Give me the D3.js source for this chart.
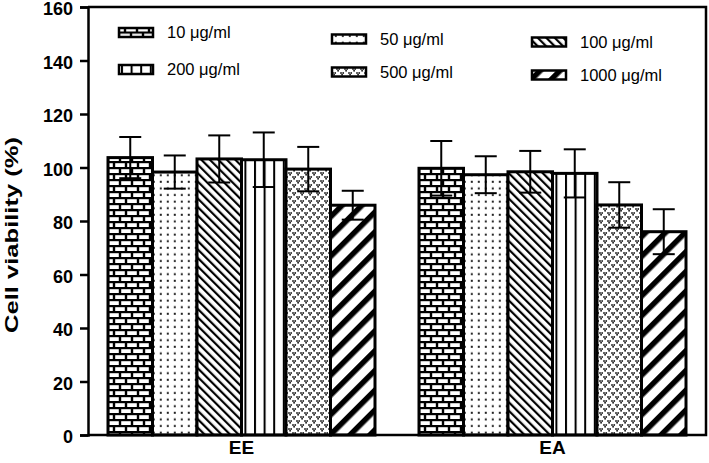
<!DOCTYPE html>
<html>
<head>
<meta charset="utf-8">
<script src="https://cdn.jsdelivr.net/npm/d3@7/dist/d3.min.js"></script>
<style>
  html, body { margin: 0; padding: 0; background: #fff; }
  svg { display: block; font-family: "Liberation Sans", Arial, sans-serif; }
</style>
</head>
<body>
<svg id="chart" width="709" height="463"></svg>
<script>
const groups = ["EE", "EA"];
const series = ["10 μg/ml", "50 μg/ml", "100 μg/ml", "200 μg/ml", "500 μg/ml", "1000 μg/ml"];
const meanEE = [103.7, 98.3, 103.2, 102.9, 99.4, 85.9];
const sdEE   = [7.7, 6.2, 8.8, 10.2, 8.3, 5.4];
const meanEA = [99.7, 97.3, 98.4, 97.8, 86.0, 76.0];
const sdEA   = [10.2, 6.9, 7.8, 9.0, 8.5, 8.4];
const yTicks = [0, 20, 40, 60, 80, 100, 120, 140, 160];

const svg = d3.select("#chart");
const W = 709, H = 463;
const m = { left: 88, top: 7, right: 3, bottom: 28 };
const defs = svg.append("defs");

// Patterns
const pats = ["p10", "p50", "p100", "p200", "p500", "p1000"];
// brick
{
  const p = defs.append("pattern").attr("id", "p10").attr("patternUnits", "userSpaceOnUse")
    .attr("width", 12).attr("height", 12);
  p.append("rect").attr("width", 12).attr("height", 12).attr("fill", "#000");
  p.append("rect").attr("x", 1.2).attr("y", 1.2).attr("width", 9.6).attr("height", 3.8).attr("fill", "#fff");
  p.append("rect").attr("x", -4.8).attr("y", 7.2).attr("width", 9.6).attr("height", 3.8).attr("fill", "#fff");
  p.append("rect").attr("x", 7.2).attr("y", 7.2).attr("width", 9.6).attr("height", 3.8).attr("fill", "#fff");
}
// dots
{
  const p = defs.append("pattern").attr("id", "p50").attr("patternUnits", "userSpaceOnUse")
    .attr("width", 7).attr("height", 6.6);
  p.append("rect").attr("width", 7).attr("height", 6.6).attr("fill", "#fff");
  p.append("rect").attr("x", 2.8).attr("y", 2.6).attr("width", 2).attr("height", 2).attr("fill", "#222");
}
// diagonal \
{
  const p = defs.append("pattern").attr("id", "p100").attr("patternUnits", "userSpaceOnUse")
    .attr("width", 6).attr("height", 6).attr("patternTransform", "rotate(-45)");
  p.append("rect").attr("width", 6).attr("height", 6).attr("fill", "#fff");
  p.append("rect").attr("x", 0).attr("y", 0).attr("width", 2.2).attr("height", 6).attr("fill", "#000");
}
// vertical lines
{
  const p = defs.append("pattern").attr("id", "p200").attr("patternUnits", "userSpaceOnUse")
    .attr("width", 9.6).attr("height", 10).attr("x", 2);
  p.append("rect").attr("width", 9.6).attr("height", 10).attr("fill", "#fff");
  p.append("rect").attr("x", 0).attr("y", 0).attr("width", 2).attr("height", 10).attr("fill", "#000");
}
// hearts
{
  const p = defs.append("pattern").attr("id", "p500").attr("patternUnits", "userSpaceOnUse")
    .attr("width", 8).attr("height", 8);
  p.append("rect").attr("width", 8).attr("height", 8).attr("fill", "#fff");
  const g = p.append("g").attr("fill", "#222");
  [[1, 1], [5, 5]].forEach(([x, y]) => {
    g.append("circle").attr("cx", x).attr("cy", y).attr("r", 0.95);
    g.append("circle").attr("cx", x + 2.2).attr("cy", y).attr("r", 0.95);
    g.append("circle").attr("cx", x + 1.1).attr("cy", y + 1.7).attr("r", 0.95);
  });
  g.append("circle").attr("cx", 9).attr("cy", 5).attr("r", 0.95);
}
// thick /
{
  const p = defs.append("pattern").attr("id", "p1000").attr("patternUnits", "userSpaceOnUse")
    .attr("width", 14).attr("height", 14).attr("patternTransform", "rotate(45)");
  p.append("rect").attr("width", 14).attr("height", 14).attr("fill", "#fff");
  p.append("rect").attr("x", 0).attr("y", 0).attr("width", 5.5).attr("height", 14).attr("fill", "#000");
}

const y = d3.scaleLinear().domain([0, 160]).range([H - m.bottom, m.top]);
const x0 = d3.scaleBand().domain(groups).range([m.left, W - m.right])
  .paddingInner(0.1415).paddingOuter(0.0643);
const x1 = d3.scaleBand().domain(series).range([0, x0.bandwidth()]).padding(0);

const data = groups.map((g, gi) => ({
  g, vals: series.map((s, si) => ({
    s, si,
    mean: gi === 0 ? meanEE[si] : meanEA[si],
    sd: gi === 0 ? sdEE[si] : sdEA[si]
  }))
}));

const gg = svg.selectAll(".grp").data(data).enter().append("g")
  .attr("transform", d => `translate(${x0(d.g)},0)`);

gg.selectAll("rect.bar").data(d => d.vals).enter().append("rect")
  .attr("class", "bar")
  .attr("x", d => x1(d.s))
  .attr("y", d => y(d.mean))
  .attr("width", x1.bandwidth())
  .attr("height", d => y(0) - y(d.mean))
  .attr("fill", d => `url(#${pats[d.si]})`)
  .attr("stroke", "#000").attr("stroke-width", 3);

const capW = 22;
const eb = gg.selectAll("g.eb").data(d => d.vals).enter().append("g")
  .attr("stroke", "#000").attr("stroke-width", 2);
eb.append("line")
  .attr("x1", d => x1(d.s) + x1.bandwidth() / 2).attr("x2", d => x1(d.s) + x1.bandwidth() / 2)
  .attr("y1", d => y(d.mean + d.sd)).attr("y2", d => y(d.mean - d.sd));
eb.append("line")
  .attr("x1", d => x1(d.s) + x1.bandwidth() / 2 - capW / 2).attr("x2", d => x1(d.s) + x1.bandwidth() / 2 + capW / 2)
  .attr("y1", d => y(d.mean + d.sd)).attr("y2", d => y(d.mean + d.sd));
eb.append("line")
  .attr("x1", d => x1(d.s) + x1.bandwidth() / 2 - capW / 2).attr("x2", d => x1(d.s) + x1.bandwidth() / 2 + capW / 2)
  .attr("y1", d => y(d.mean - d.sd)).attr("y2", d => y(d.mean - d.sd));

// Frame
svg.append("path")
  .attr("d", `M${m.left},${m.top}H${W - m.right}V${H - m.bottom}H${m.left}`)
  .attr("fill", "none").attr("stroke", "#000").attr("stroke-width", 2.5);

// Y axis
const yAxis = svg.append("g").attr("transform", `translate(${m.left},0)`)
  .call(d3.axisLeft(y).tickValues(yTicks).tickSize(8).tickPadding(7));
yAxis.select(".domain").attr("stroke-width", 2.5);
yAxis.selectAll(".tick line").attr("stroke-width", 2.5);
yAxis.selectAll(".tick text").attr("font-size", 18).attr("font-weight", "bold")
  .attr("font-family", "'Liberation Sans', Arial, sans-serif").attr("fill", "#000")
  .attr("dy", "0.42em");

// X axis labels
const xAxis = svg.append("g").attr("transform", `translate(0,${H - m.bottom})`)
  .call(d3.axisBottom(x0).tickSize(0).tickPadding(6));
xAxis.select(".domain").remove();
xAxis.selectAll(".tick text").attr("font-size", 19).attr("font-weight", "bold")
  .attr("font-family", "'Liberation Sans', Arial, sans-serif").attr("fill", "#000");

// Y label
svg.append("text")
  .attr("transform", `translate(18,235) rotate(-90)`)
  .attr("text-anchor", "middle").attr("font-size", 19).attr("font-weight", "bold")
  .attr("textLength", 196).attr("lengthAdjust", "spacingAndGlyphs")
  .text("Cell viability (%)");

// Legend
const legendOrder = ["10 μg/ml", "200 μg/ml", "50 μg/ml", "500 μg/ml", "100 μg/ml", "1000 μg/ml"];
const legendPos = [[119, 32.5], [119, 69.5], [332, 39], [332, 72], [532, 42], [532, 75]];
const lg = svg.selectAll(".lg").data(legendOrder).enter().append("g")
  .attr("transform", (d, i) => `translate(${legendPos[i][0]},${legendPos[i][1]})`);
lg.append("rect").attr("x", 0).attr("y", -4.5).attr("width", 34).attr("height", 9)
  .attr("fill", d => `url(#${pats[series.indexOf(d)]})`)
  .attr("stroke", "#000").attr("stroke-width", 2.5);
lg.append("text").attr("x", 48).attr("y", 0).attr("dy", "0.35em")
  .attr("font-size", 16.5).attr("fill", "#000").text(d => d);
</script>
</body>
</html>
